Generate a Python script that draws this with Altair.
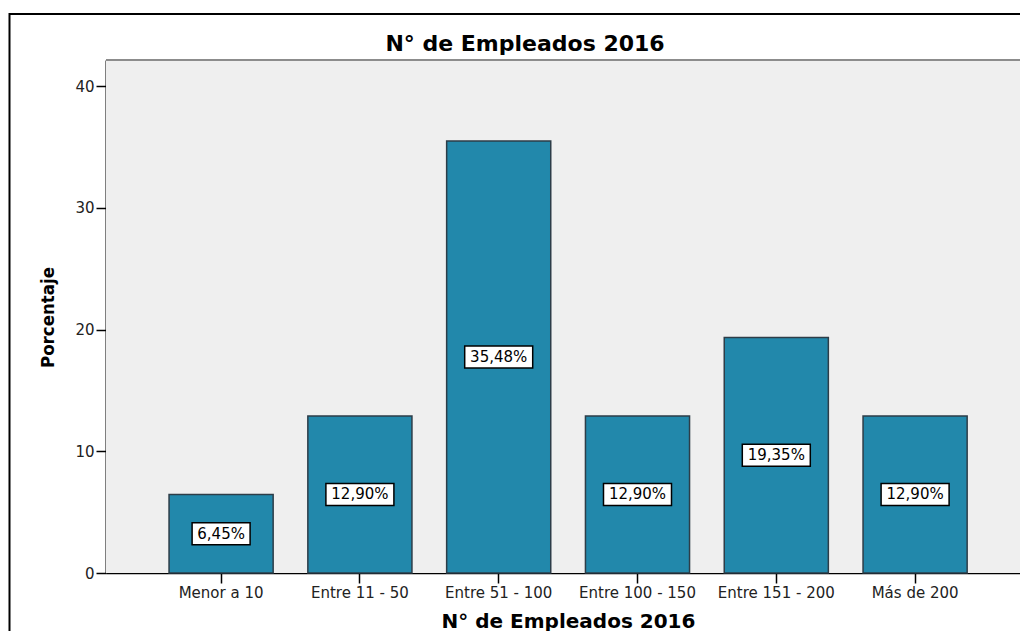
import altair as alt
import pandas as pd

# ---- data ----
categories = ["Menor a 10", "Entre 11 - 50", "Entre 51 - 100",
              "Entre 100 - 150", "Entre 151 - 200", "Más de 200"]
percentages = [6.45, 12.90, 35.48, 12.90, 19.35, 12.90]
y_ticks = [0, 10, 20, 30, 40]

df = pd.DataFrame({"categoria": categories, "porcentaje": percentages})

W, H = 914, 513
FONT = "DejaVu Sans"
NARROW = "Liberation Sans Narrow, DejaVu Sans Condensed, sans-serif"
BAR = "#2288AB"

x_scale = alt.Scale(paddingInner=0.25, paddingOuter=0.4175, align=0.544)
y_scale = alt.Scale(domain=[0, 42.14], nice=False, zero=True)

x_axis = alt.Axis(
    labelAngle=0, domainColor="black", domainWidth=1.5,
    tickColor="black", tickWidth=1.5, tickSize=10,
    labelFont=FONT, labelFontSize=15, labelColor="#222222", labelPadding=2,
    title="N° de Empleados 2016", titleFont=FONT, titleFontSize=20,
    titleFontWeight="bold", titleColor="black",
    titleX=462, titleY=54, titleAlign="center", titleBaseline="alphabetic",
)
y_axis = alt.Axis(
    values=y_ticks, grid=False, domainColor="black", domainWidth=2,
    tickColor="black", tickWidth=1.5, tickSize=10,
    labelFont=FONT, labelFontSize=15, labelColor="#222222", labelPadding=2,
    title="Porcentaje", titleFont=NARROW, titleFontSize=18.5,
    titleFontWeight="bold", titleColor="black", titleAngle=270,
    titleX=-59, titleY=257, titleAlign="center", titleBaseline="middle",
)

x_enc = alt.X("categoria:N", sort=categories, scale=x_scale, axis=x_axis)

one = alt.Data(values=[{}])

# plot-area background and outer frame (decoration)
plot_bg = alt.Chart(one).mark_rect(color="#EFEFEF").encode(
    x=alt.value(0), x2=alt.value(W), y=alt.value(0), y2=alt.value(H)
)

frame = alt.Chart(one).mark_rect(
    filled=False, stroke="black", strokeWidth=2, clip=False
).encode(
    x=alt.value(-96.5), x2=alt.value(1300), y=alt.value(-46), y2=alt.value(900)
)

top_line = alt.Chart(one).mark_rule(color="#8C8C8C", strokeWidth=2).encode(
    x=alt.value(0), x2=alt.value(W), y=alt.value(0)
)

base = alt.Chart(df)

bars = base.mark_bar(color=BAR, stroke="#2D3D48", strokeWidth=1.5).encode(
    x=x_enc,
    y=alt.Y("porcentaje:Q", scale=y_scale, axis=y_axis),
)

lab = base.transform_calculate(
    mid="datum.porcentaje / 2",
    label="replace(format(datum.porcentaje, '.2f'), '.', ',') + '%'",
).transform_calculate(
    bw="length(datum.label) * 10 + 8",
).transform_calculate(
    boxsize="datum.bw * datum.bw",
    boxpath="'M-1,' + (-22 / datum.bw) + 'L1,' + (-22 / datum.bw) + 'L1,' + (22 / datum.bw) + 'L-1,' + (22 / datum.bw) + 'Z'",
)

boxes = lab.mark_point(
    filled=True, fill="white", stroke="black", strokeWidth=1.5, opacity=1
).encode(
    x=x_enc,
    y=alt.Y("mid:Q", scale=y_scale, axis=y_axis),
    shape=alt.Shape("boxpath:N", scale=None),
    size=alt.Size("boxsize:Q", scale=None),
)

texts = lab.mark_text(
    font=FONT, fontSize=15, color="black", align="center", baseline="middle"
).encode(
    x=x_enc,
    y=alt.Y("mid:Q", scale=y_scale, axis=y_axis),
    text="label:N",
)

chart = alt.layer(plot_bg, frame, top_line, bars, boxes, texts).properties(
    width=W,
    height=H,
    autosize=alt.AutoSizeParams(type="none"),
    padding={"left": 98, "top": 52, "right": 0, "bottom": 58},
    title=alt.Title(
        "N° de Empleados 2016", font=FONT, fontSize=22, fontWeight="bold",
        color="black", anchor="middle", dx=-38, offset=-60, baseline="alphabetic",
    ),
).configure(
    background="white",
    view=alt.ViewConfig(stroke="transparent"),
)

chart.save("out.html", embed_options={"renderer": "svg", "actions": False})
